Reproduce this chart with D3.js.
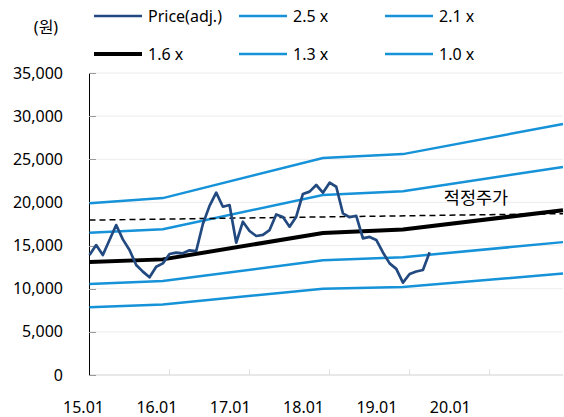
<!DOCTYPE html>
<html>
<head>
<meta charset="utf-8">
<script src="https://cdn.jsdelivr.net/npm/d3@7"></script>
<style>
  html, body { margin: 0; padding: 0; background: #fff; }
  svg { display: block; font-family: "Noto Sans", "Noto Sans CJK KR", sans-serif; }
</style>
</head>
<body>
<svg id="chart" width="564" height="417"></svg>
<script>
// Monthly adjusted price, Jan 2015 (index 0) onward
const priceAdj = [
  13900, 15060, 13900, 15650, 17380, 15720, 14490, 12750, 11980, 11320,
  12550, 12940, 14020, 14180, 14100, 14450, 14370, 17500, 19600, 21130,
  19500, 19700, 15330, 17770, 16690, 16110, 16230, 16800, 18600, 18300,
  17190, 18350, 20980, 21250, 22020, 21130, 22290, 21820, 18740, 18280,
  18450, 15840, 16000, 15650, 14200, 12940, 12300, 10700, 11700, 12000,
  12170, 14220
];

// PBR band lines: values at the month indices where the slope changes
const bandMonths = [0, 11, 35, 47, 71];
const band25 = [19900, 20500, 25150, 25600, 29100];
const band21 = [16500, 16900, 20850, 21300, 24100];
const band16 = [13100, 13400, 16450, 16850, 19100];
const band13 = [10550, 10900, 13300, 13650, 15400];
const band10 = [7850, 8170, 10000, 10200, 11750];

// Target price (적정주가)
const targetMonths = [0, 71];
const targetPrice = [17950, 18700];

const yTicks = [0, 5000, 10000, 15000, 20000, 25000, 30000, 35000];
const xTickMonths = [0, 12, 24, 36, 48, 60];
const xLabels = ["15.01", "16.01", "17.01", "18.01", "19.01", "20.01"];
const xLabelMonths = [0, 11, 22, 33, 44, 55];

const svg = d3.select("#chart");
const x = d3.scaleLinear().domain([0, 71]).range([89.5, 563]);
const y = d3.scaleLinear().domain([0, 35000]).range([375, 73]);

// gridlines
svg.append("g").selectAll("line").data(yTicks.slice(1)).join("line")
  .attr("x1", 90).attr("x2", 563)
  .attr("y1", d => y(d)).attr("y2", d => y(d))
  .attr("stroke", "#ececec").attr("stroke-width", 1);

// x axis baseline and ticks
svg.append("line").attr("x1", 89).attr("x2", 563)
  .attr("y1", y(0)).attr("y2", y(0))
  .attr("stroke", "#e0e0e0").attr("stroke-width", 1.5);
svg.append("g").selectAll("line").data(xTickMonths).join("line")
  .attr("x1", d => x(d)).attr("x2", d => x(d))
  .attr("y1", y(0) - 6).attr("y2", y(0))
  .attr("stroke", "#e0e0e0").attr("stroke-width", 1);

// y axis
svg.append("line").attr("x1", 89.5).attr("x2", 89.5)
  .attr("y1", y(35000)).attr("y2", y(0))
  .attr("stroke", "#000").attr("stroke-width", 1);
svg.append("g").selectAll("line").data(yTicks).join("line")
  .attr("x1", 89).attr("x2", 96)
  .attr("y1", d => Math.round(y(d)) + 0.5).attr("y2", d => Math.round(y(d)) + 0.5)
  .attr("stroke", "#9a9a9a").attr("stroke-width", 1);

svg.append("g").selectAll("text").data(yTicks).join("text")
  .attr("x", 63).attr("y", d => y(d))
  .attr("dy", "0.35em").attr("text-anchor", "end")
  .attr("font-size", 16).attr("fill", "#000")
  .text(d => d3.format(",")(d));

svg.append("g").selectAll("text").data(xLabels).join("text")
  .attr("x", (d, i) => x(xLabelMonths[i]) - 6).attr("y", 407)
  .attr("dy", "0.35em").attr("text-anchor", "middle")
  .attr("font-size", 16).attr("fill", "#000")
  .text(d => d);

svg.append("text").attr("x", 46).attr("y", 27).attr("dy", "0.35em")
  .attr("text-anchor", "middle").attr("font-size", 16).text("(원)");

const line = d3.line().x(d => x(d[0])).y(d => y(d[1]));
const pairs = (ms, vs) => ms.map((m, i) => [m, vs[i]]);

const blue = "#1592d8";
[band25, band21, band13, band10].forEach(b => {
  svg.append("path").attr("d", line(pairs(bandMonths, b)))
    .attr("fill", "none").attr("stroke", blue).attr("stroke-width", 2.5);
});
svg.append("path").attr("d", line(pairs(bandMonths, band16)))
  .attr("fill", "none").attr("stroke", "#000").attr("stroke-width", 4);

svg.append("path").attr("d", line(pairs(targetMonths, targetPrice)))
  .attr("fill", "none").attr("stroke", "#000").attr("stroke-width", 1.5)
  .attr("stroke-dasharray", "6,4");

svg.append("path").attr("d", line(priceAdj.map((v, i) => [i, v])))
  .attr("fill", "none").attr("stroke", "#234a80").attr("stroke-width", 2.7)
  .attr("stroke-linejoin", "round");

svg.append("text").attr("x", 476).attr("y", 198).attr("dy", "0.35em")
  .attr("text-anchor", "middle").attr("font-size", 17.5).text("적정주가");

// legend
const legend = [
  { label: "Price(adj.)", color: "#234a80", w: 2.7, col: 0, row: 0 },
  { label: "2.5 x", color: blue, w: 2.5, col: 1, row: 0 },
  { label: "2.1 x", color: blue, w: 2.5, col: 2, row: 0 },
  { label: "1.6 x", color: "#000", w: 4, col: 0, row: 1 },
  { label: "1.3 x", color: blue, w: 2.5, col: 1, row: 1 },
  { label: "1.0 x", color: blue, w: 2.5, col: 2, row: 1 }
];
const colX = [94, 239, 385];
const rowY = [16, 54];
const lg = svg.append("g").selectAll("g").data(legend).join("g")
  .attr("transform", d => `translate(${colX[d.col]},${rowY[d.row]})`);
lg.append("line").attr("x1", 0).attr("x2", 48)
  .attr("stroke", d => d.color).attr("stroke-width", d => d.w);
lg.append("text").attr("x", 54).attr("dy", "0.35em")
  .attr("font-size", 16).text(d => d.label);
</script>
</body>
</html>
